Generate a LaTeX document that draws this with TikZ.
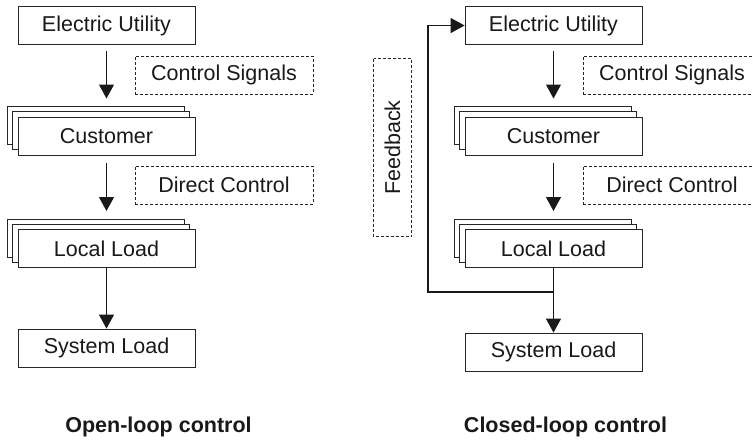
\documentclass[tikz,border=0pt]{standalone}
\usepackage{fontspec}
\setmainfont{Liberation Sans}
\usetikzlibrary{arrows.meta}
\tikzset{
  box/.style={draw=black!85, line width=0.8pt, fill=white, minimum width=177pt, minimum height=38pt, inner sep=0pt, font=\fontsize{21.5}{24}\selectfont, text=black!90},
  dbox/.style={draw=black!85, line width=0.7pt, dash pattern=on 3pt off 2pt, minimum width=178pt, minimum height=38pt, inner sep=0pt, font=\fontsize{21.5}{24}\selectfont, text=black!90},
  arr/.style={draw=black!90, line width=1.2pt, -{Triangle[length=14pt,width=15pt]}},
  caption/.style={font=\fontsize{21.5}{24}\selectfont\bfseries, text=black!90}
}
\begin{document}
\begin{tikzpicture}[x=1pt,y=-1pt]
\useasboundingbox (0,0) rectangle (753,440);
% ---------- Open loop ----------
\node[box] (eu1) at (106.5,25.5) {Electric Utility};
\node[box] (cu1c) at (95.9,125.4) {};
\node[box] (cu1b) at (101.2,130.7) {};
\node[box] (cu1) at (106.5,136) {Customer};
\node[box] (ll1c) at (95.9,237.9) {};
\node[box] (ll1b) at (101.2,243.2) {};
\node[box] (ll1) at (106.5,248.5) {Local Load};
\node[box] (sl1) at (106.5,348) {System Load};
\node[dbox] (cs1) at (224,75) {Control Signals};
\node[dbox] (dc1) at (224,185) {Direct Control};
\draw[arr, shorten <=6.5pt, shorten >=7.5pt] (eu1.south) -- (eu1.south |- cu1c.north);
\draw[arr, shorten <=7.5pt, shorten >=7.5pt] (cu1.south) -- (cu1.south |- ll1c.north);
\draw[arr] (ll1.south) -- (sl1.north);
\node[caption] (cap1) at (158.5,427) {Open-loop control};
% ---------- Closed loop ----------
\node[box] (eu2) at (553.5,25.5) {Electric Utility};
\node[box] (cu2c) at (542.9,125.4) {};
\node[box] (cu2b) at (548.2,130.7) {};
\node[box] (cu2) at (553.5,136) {Customer};
\node[box] (ll2c) at (542.9,237.9) {};
\node[box] (ll2b) at (548.2,243.2) {};
\node[box] (ll2) at (553.5,248.5) {Local Load};
\node[box] (sl2) at (553.5,352) {System Load};
\node[dbox] (cs2) at (672,75) {Control Signals};
\node[dbox] (dc2) at (672,185) {Direct Control};
\node[dbox, rotate=90] (fbk) at (392.5,147.5) {Feedback};
\draw[arr, shorten <=6.5pt, shorten >=7.5pt] (eu2.south) -- (eu2.south |- cu2c.north);
\draw[arr, shorten <=7.5pt, shorten >=7.5pt] (cu2.south) -- (cu2.south |- ll2c.north);
\draw[arr] (ll2.south) -- (sl2.north);
\coordinate (fb) at (553.5,292);
\coordinate (fbc) at (428,292);
\draw[arr] (fb) -- (fbc) |- (eu2.west);
\node[caption] (cap2) at (565.5,427) {Closed-loop control};
\end{tikzpicture}
\end{document}
